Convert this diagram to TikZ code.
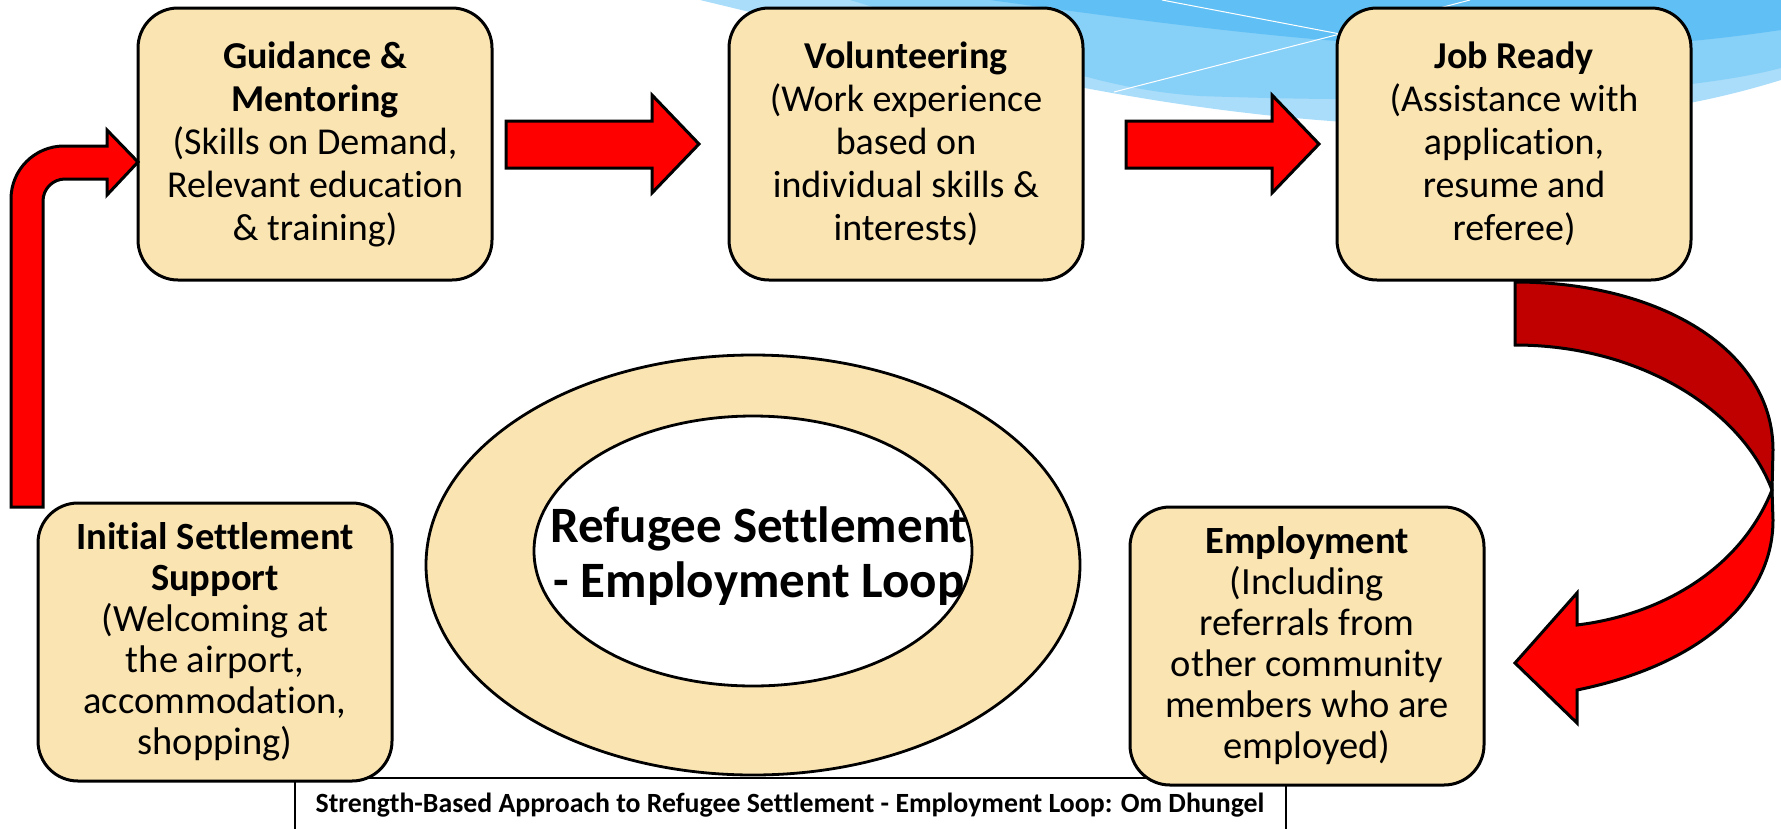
\documentclass[tikz,border=0pt]{standalone}
\usepackage{fontspec}
\setmainfont{Carlito}[Ligatures=NoCommon]
\usetikzlibrary{shapes.geometric}
\definecolor{boxfill}{RGB}{250,228,178}
\definecolor{arrowred}{RGB}{255,0,0}
\definecolor{darkred}{RGB}{192,0,0}
\definecolor{skyA}{RGB}{170,221,250}
\definecolor{skyB}{RGB}{135,208,248}
\definecolor{skyC}{RGB}{96,192,245}
\tikzset{
  stage/.style={draw=black, line width=3pt, fill=boxfill, rounded corners=40pt,
    minimum width=354pt, minimum height=272pt, inner sep=0pt, align=center,
    font=\fontsize{38}{43}\selectfont},
  stagesix/.style={stage, minimum height=278pt, font=\fontsize{38.5}{41}\selectfont},
  blockarrow/.style={draw=black, line width=3pt, fill=arrowred, line join=miter},
  ring/.style={draw=black, line width=2.8pt, ellipse, inner sep=0pt},
}
\begin{document}
\begin{tikzpicture}[x=1pt,y=-1pt]
\useasboundingbox (0,0) rectangle (1781,828);
% background swooshes
\fill[skyA] (700,0) .. controls (950,60) and (1150,115) .. (1400,125)
  .. controls (1600,125) and (1700,105) .. (1781,80) -- (1781,0) -- cycle;
\fill[skyB] (850,0) .. controls (1000,45) and (1080,88) .. (1200,96)
  .. controls (1450,105) and (1680,95) .. (1781,68) -- (1781,0) -- cycle;
\fill[skyC] (990,0) .. controls (1150,22) and (1300,42) .. (1450,48)
  .. controls (1600,52) and (1700,42) .. (1781,30) -- (1781,0) -- cycle;
\draw[white, line width=1pt] (1162,0) -- (1340,34) -- (1690,100);
\draw[white, line width=1pt] (1114,92) -- (1340,34) -- (1470,0);
% central rings
\node[ring, fill=boxfill, minimum width=654pt, minimum height=420pt] (outer) at (753,565) {};
\node[ring, fill=white, minimum width=438pt, minimum height=270pt] (inner) at (753,551) {};
\node[font=\fontsize{51}{55}\selectfont\bfseries, align=center] (loop) at (759,556)
  {Refugee Settlement\\- Employment Loop};
% caption
\draw[fill=white, line width=1.6pt] (295,850) -- (295,778) -- (1286,778) -- (1286,850);
\node[anchor=base, font=\fontsize{27.8}{32}\selectfont\bfseries] (captxt) at (790,812)
  {Strength-Based Approach to Refugee Settlement - Employment Loop: Om Dhungel};
% stage boxes
\node[stage] (guide) at (315,144)
  {\textbf{Guidance \&}\\\textbf{Mentoring}\\(Skills on Demand,\\Relevant education\\\& training)};
\node[stage] (vol) at (906,144)
  {\textbf{Volunteering}\\(Work experience\\based on\\individual skills \&\\interests)};
\node[stage] (job) at (1514,144)
  {\textbf{Job Ready}\\(Assistance with\\application,\\resume and\\referee)};
\node[stagesix] (init) at (215,642)
  {\textbf{Initial Settlement}\\\textbf{Support}\\(Welcoming at\\the airport,\\accommodation,\\shopping)};
\node[stagesix] (emp) at (1307,646)
  {\textbf{Employment}\\(Including\\referrals from\\other community\\members who are\\employed)};
% straight block arrows
\draw[blockarrow] (506,121) -- (652,121) -- (652,95) -- (699,144) -- (652,193) -- (652,168) -- (506,168) -- cycle;
\draw[blockarrow] (1126,121) -- (1272,121) -- (1272,95) -- (1319,144) -- (1272,193) -- (1272,168) -- (1126,168) -- cycle;
% bent up arrow
\draw[blockarrow] (11,507) -- (11,199) .. controls (11,169.7) and (34.7,146) .. (64,146)
  -- (107,146) -- (107,130) -- (138,162) -- (107,195) -- (107,179) -- (65,179)
  .. controls (52.85,179) and (43,188.85) .. (43,201) -- (43,507) -- cycle;
% curved arrow
\draw[blockarrow, fill=darkred] (1515,282) .. controls (1660,282) and (1773,350) .. (1773,450)
  -- (1772,490) .. controls (1742,410) and (1640,345) .. (1515,345) -- cycle;
\draw[blockarrow] (1772,490) -- (1773,520) .. controls (1773,600) and (1700,665) .. (1577,690)
  -- (1577,723) -- (1515,663) -- (1577,593) -- (1577,625)
  .. controls (1660,615) and (1740,570) .. (1772,490) -- cycle;
\end{tikzpicture}
\end{document}
